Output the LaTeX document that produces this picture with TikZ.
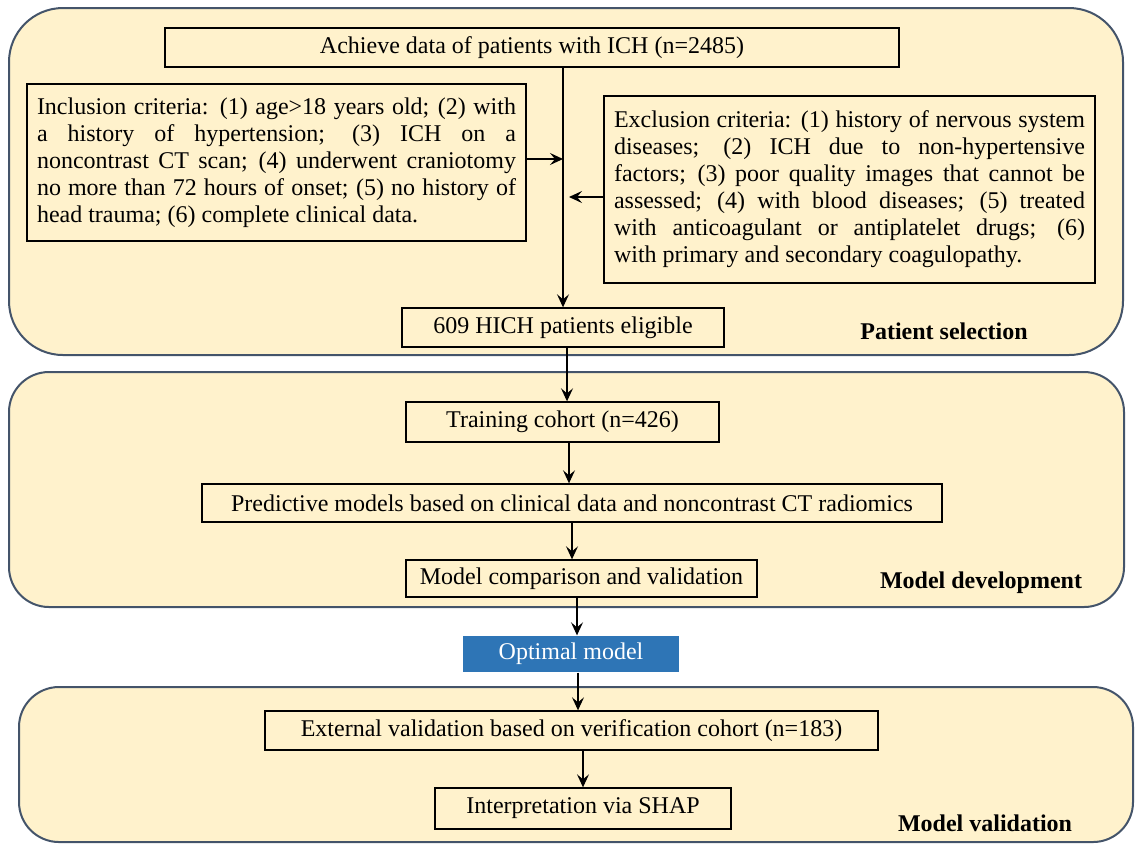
\documentclass[tikz,border=0pt]{standalone}
\usepackage{fontspec}
\setmainfont{Liberation Serif}
\usetikzlibrary{positioning,arrows.meta,calc}
\definecolor{panelfill}{RGB}{255,242,204}
\definecolor{paneldraw}{RGB}{68,84,106}
\definecolor{optblue}{RGB}{46,117,182}
\tikzset{
  x=0.5pt,y=-0.5pt,
  panel/.style={draw=paneldraw,fill=panelfill,line width=1pt},
  box/.style={draw=black,line width=0.7pt,inner sep=0pt,align=center,font=\fontsize{12}{13.5}\selectfont},
  simple box/.style={box,minimum height=19.5pt},
  criteria box/.style={box,align=justify,inner xsep=5pt,inner ysep=0pt},
  optimal box/.style={simple box,draw=none,fill=optblue,text=white,minimum width=108pt,minimum height=18pt},
  panel label/.style={font=\fontsize{12}{13.5}\selectfont\bfseries},
  flow arrow/.style={-{Stealth[length=6.5pt,width=6pt,inset=2.5pt]},line width=0.6pt},
}

\begin{document}
\begin{tikzpicture}
\useasboundingbox (0,0) rectangle (1138,843);
% the panels
\draw[panel,rounded corners=27pt] (9,8) rectangle (1123,355);
\draw[panel,rounded corners=20pt] (9,372) rectangle (1124,607);
\draw[panel,rounded corners=20pt] (19,687) rectangle (1133,842);
\node[panel label] (lblsel) at (944,331) {Patient selection};
\node[panel label] (lbldev) at (981,583) {Model development};
\node[panel label] (lblval) at (985,823) {Model validation};
% the nodes
\node[simple box,minimum width=367pt] (achieve) at (532,47.5) {Achieve data of patients with ICH (n=2485)};
\node[criteria box,text width=239.5pt,minimum height=78.5pt] (incl) at (276.5,162.5) {Inclusion criteria: (1) age>18 years old; (2) with\linebreak a history of hypertension; (3) ICH on a\linebreak noncontrast CT scan; (4) underwent craniotomy\linebreak no more than 72 hours of onset; (5) no history of\linebreak head trauma; (6) complete clinical data.};
\node[criteria box,text width=235.5pt,minimum height=93.5pt] (excl) at (849.5,189.5) {Exclusion criteria: (1) history of nervous system\linebreak diseases; (2) ICH due to non-hypertensive\linebreak factors; (3) poor quality images that cannot be\linebreak assessed; (4) with blood diseases; (5) treated\linebreak with anticoagulant or antiplatelet drugs; (6)\linebreak with primary and secondary coagulopathy.};
\node[simple box,minimum width=161pt] (elig) at (563,327.5) {609 HICH patients eligible};
\node[simple box,minimum width=156.5pt,minimum height=20pt] (train) at (562.5,422) {Training cohort (n=426)};
\node[simple box,minimum width=370pt,minimum height=19pt] (pred) at (572,503) {Predictive models based on clinical data and noncontrast CT radiomics};
\node[simple box,minimum width=175.5pt,minimum height=18.5pt] (comp) at (581.5,578.5) {Model comparison and validation};
\node[optimal box] (optimal) at (571,654) {Optimal model};
\node[simple box,minimum width=306.5pt] (extval) at (571.5,730.5) {External validation based on verification cohort (n=183)};
\node[simple box,minimum width=148pt,minimum height=20.5pt] (interp) at (583,808.5) {Interpretation via SHAP};
%drawings of vectors
\draw[flow arrow] (achieve.south -| elig.north) -- (elig.north);
\draw[flow arrow] ([yshift=1.75pt]incl.east) -- ([yshift=1.75pt]incl.east -| elig.north);
\draw[flow arrow,shorten >=3pt] ([yshift=-3.75pt]excl.west) -- ([yshift=-3.75pt]excl.west -| elig.north);

\draw[flow arrow] ([xshift=2pt]elig.south) -- ([xshift=2pt]elig.south |- train.north);
\draw[flow arrow] ([xshift=3.25pt]train.south) -- ([xshift=3.25pt]train.south |- pred.north);
\draw[flow arrow] (pred.south) -- (pred.south |- comp.north);
\draw[flow arrow] ([xshift=-2.25pt]comp.south) -- ([xshift=-2.25pt]comp.south |- optimal.north);
\draw[flow arrow] ([xshift=3.5pt]optimal.south) -- ([xshift=3.5pt]optimal.south |- extval.north);
\draw[flow arrow] (extval.south -| interp.north) -- (interp.north);

\end{tikzpicture}
\end{document}
